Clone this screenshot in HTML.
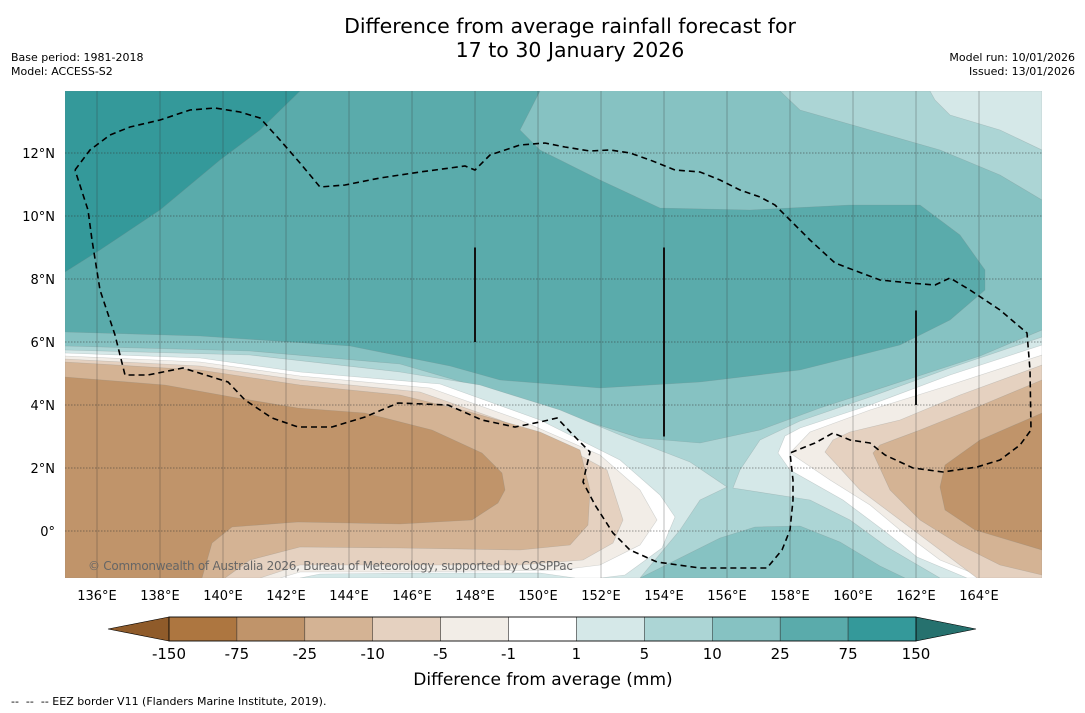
<!DOCTYPE html>
<html><head><meta charset="utf-8">
<style>
html,body{margin:0;padding:0;background:#fff;}
body{width:1085px;height:713px;overflow:hidden;position:relative;font-family:"DejaVu Sans","Liberation Sans",sans-serif;}
.t{position:absolute;white-space:nowrap;color:#000;}
</style></head>
<body>
<div class="t" style="left:0;width:1140px;top:14px;text-align:center;font-size:20.5px;line-height:24px;">Difference from average rainfall forecast for<br>17 to 30 January 2026</div>
<div class="t" style="left:11px;top:51px;font-size:11px;line-height:14px;">Base period: 1981-2018<br>Model: ACCESS-S2</div>
<div class="t" style="right:10px;top:51px;font-size:11px;line-height:14px;text-align:right;">Model run: 10/01/2026<br>Issued: 13/01/2026</div>
<div class="t" style="left:11px;top:695px;font-size:11px;">-- &nbsp;-- &nbsp;-- EEZ border V11 (Flanders Marine Institute, 2019).</div>
<svg id="map" width="1085" height="713" style="position:absolute;left:0;top:0" xmlns="http://www.w3.org/2000/svg"></svg>
<script>
const lonTicks=[136,138,140,142,144,146,148,150,152,154,156,158,160,162,164];
const latTicks=[0,2,4,6,8,10,12];
const cbLevels=["-150","-75","-25","-10","-5","-1","1","5","10","25","75","150"];
const cbColors=["#ad7640","#c0946a","#d4b394","#e5d1c0","#f2ede7","#ffffff","#d5e8e8","#acd5d5","#86c2c2","#5aabab","#34999a"];
const cbLow="#8f5b2a", cbHigh="#26716e";
const contours=[
 [9,[[65,91],[540,91],[520,130],[540,150],[600,180],[660,208],[750,210],[850,205],[920,205],[960,235],[985,270],[985,290],[950,320],[900,345],[800,370],[700,382],[600,388],[500,380],[450,366],[350,346],[200,336],[65,332]]],
 [10,[[65,91],[300,91],[260,130],[220,160],[160,210],[100,250],[65,272]]],
 [7,[[780,91],[1042,91],[1042,200],[1000,175],[940,150],[870,130],[800,110]]],
 [6,[[930,91],[1042,91],[1042,150],[1000,130],[950,115],[935,100]]],
 [7,[[65,346],[250,351],[400,364],[500,393],[560,413],[640,438],[700,443],[760,430],[820,408],[900,382],[980,356],[1042,330],[1042,578],[65,578]]],
 [8,[[640,578],[680,558],[720,538],[755,527],[800,526],[840,542],[880,566],[905,578]]],
 [6,[[65,350],[250,355],[400,372],[480,385],[560,410],[620,435],[690,462],[727,487],[700,500],[680,530],[640,578],[65,578]]],
 [6,[[1042,337],[950,368],[870,397],[800,421],[760,440],[740,470],[733,488],[810,500],[850,520],[887,547],[940,578],[1042,578]]],
 [5,[[65,353],[200,358],[300,372],[440,384],[540,420],[620,460],[660,495],[675,517],[662,548],[625,575],[600,578],[65,578]]],
 [4,[[65,356],[200,362],[300,376],[430,388],[520,420],[600,455],[640,490],[657,520],[640,545],[600,565],[560,570],[400,572],[300,572],[280,578],[65,578]]],
 [3,[[65,359],[200,366],[300,380],[420,392],[500,420],[570,450],[607,470],[623,520],[613,543],[583,560],[520,565],[400,565],[300,565],[260,578],[65,578]]],
 [2,[[65,362],[200,370],[300,385],[400,395],[470,412],[540,432],[580,450],[590,490],[588,525],[570,545],[520,550],[400,548],[300,547],[250,560],[225,578],[65,578]]],
 [1,[[65,377],[165,385],[232,397],[298,408],[365,413],[432,430],[482,453],[502,473],[505,490],[498,503],[472,520],[400,524],[298,522],[232,527],[212,543],[202,578],[65,578]]],
 [6,[[300,578],[320,574],[420,573],[540,573],[575,578]]],
 [5,[[1042,345],[950,375],[870,405],[800,428],[785,436],[778,453],[790,470],[843,500],[887,533],[917,557],[967,578],[1042,578]]],
 [4,[[1042,355],[950,385],[870,410],[810,432],[790,453],[830,480],[870,505],[900,530],[940,560],[985,578],[1042,578]]],
 [3,[[1042,365],[960,395],[900,420],[850,432],[833,440],[825,452],[860,490],[900,520],[940,550],[977,578],[1042,578]]],
 [2,[[1042,380],[970,410],[920,430],[880,445],[873,453],[890,490],[920,520],[960,545],[1000,565],[1042,575]]],
 [1,[[1042,413],[980,440],[945,465],[940,487],[945,510],[975,530],[1042,550]]]
];
const eez=[[75,170],[90,150],[110,135],[130,127],[160,120],[190,110],[215,108],[240,112],[260,118],[280,140],[300,163],[320,187],[345,185],[380,178],[420,172],[465,166],[475,170],[490,155],[520,145],[545,143],[565,147],[590,151],[610,150],[630,153],[650,160],[675,170],[700,172],[720,180],[740,190],[760,197],[775,205],[790,220],[810,240],[835,263],[880,280],[910,283],[935,285],[950,278],[970,290],[1000,310],[1027,333],[1030,370],[1031,430],[1020,445],[1000,460],[977,467],[943,472],[913,468],[885,455],[870,443],[850,440],[833,433],[815,443],[790,453],[793,480],[793,500],[790,530],[782,550],[767,568],[700,568],[657,562],[630,550],[613,533],[595,505],[583,482],[590,452],[578,440],[557,418],[540,422],[515,427],[482,420],[448,405],[398,403],[365,417],[332,427],[298,427],[272,418],[245,400],[228,382],[183,368],[148,375],[125,375],[115,335],[100,290],[92,240],[88,210],[75,170]];
const ridges=[[148,9,6],[154,9,3],[162,7,4]];

const NS="http://www.w3.org/2000/svg";
const svg=document.getElementById('map');
const X0=65,X1=1042,Y0=91,Y1=578;
function xOf(lon){return 97+(lon-136)*31.5;}
function yOf(lat){return 531-lat*31.5;}
function mk(tag,attrs,parent){const e=document.createElementNS(NS,tag);for(const k in attrs)e.setAttribute(k,attrs[k]);(parent||svg).appendChild(e);return e;}
const defs=mk('defs',{});
const cp=mk('clipPath',{id:'cp'},defs);mk('rect',{x:X0,y:Y0,width:X1-X0,height:Y1-Y0},cp);
const g=mk('g',{'clip-path':'url(#cp)'});
const bg=mk('rect',{x:X0,y:Y0,width:X1-X0,height:Y1-Y0,fill:cbColors[8]},g);


contours.forEach((c,i)=>{
  const p=mk('polygon',{points:c[1].map(q=>q.join(',')).join(' '),fill:cbColors[c[0]],stroke:'rgba(120,130,130,0.3)','stroke-width':0.6},g);
  
  
});
lonTicks.forEach(l=>{
  const ln=mk('line',{x1:xOf(l),x2:xOf(l),y1:Y0,y2:Y1,stroke:'#333','stroke-width':0.8,'stroke-opacity':0.4},g);
  
  
  const t=mk('text',{x:xOf(l),y:600,'font-size':13,'text-anchor':'middle','font-family':'DejaVu Sans, sans-serif'});
  t.textContent=l+'°E';
  
  
});
latTicks.forEach(l=>{
  const ln=mk('line',{x1:X0,x2:X1,y1:yOf(l),y2:yOf(l),stroke:'#333','stroke-width':0.8,'stroke-dasharray':'1.5,1.5','stroke-opacity':0.65},g);
  
  
  const t=mk('text',{x:55,y:yOf(l)+5,'font-size':13,'text-anchor':'end','font-family':'DejaVu Sans, sans-serif'});
  t.textContent=l===0?'0°':l+'°N';
  
  
});
ridges.forEach(r=>{
  const ln=mk('line',{x1:xOf(r[0]),x2:xOf(r[0]),y1:yOf(r[1]),y2:yOf(r[2]),stroke:'#111','stroke-width':2},g);
  
  
});
const ez=mk('polyline',{points:eez.map(q=>q.join(',')).join(' '),fill:'none',stroke:'#000','stroke-width':1.6,'stroke-dasharray':'6,4'},g);


const cr=mk('text',{x:88,y:570,'font-size':12,fill:'#666','font-family':'DejaVu Sans, sans-serif',textLength:485});
cr.textContent='© Commonwealth of Australia 2026, Bureau of Meteorology, supported by COSPPac';


const cbX0=169,cbX1=916,cbY=617,cbH=24,bw=(cbX1-cbX0)/cbColors.length;
const lt=mk('polygon',{points:`108,${cbY+cbH/2} ${cbX0},${cbY} ${cbX0},${cbY+cbH}`,fill:cbLow,stroke:'#000','stroke-width':0.6});


const rt=mk('polygon',{points:`976,${cbY+cbH/2} ${cbX1},${cbY} ${cbX1},${cbY+cbH}`,fill:cbHigh,stroke:'#000','stroke-width':0.6});


cbColors.forEach((c,i)=>{
  const r=mk('rect',{x:cbX0+i*bw,y:cbY,width:bw,height:cbH,fill:c,stroke:'#333','stroke-width':0.5});
  
  
});
mk('rect',{x:cbX0,y:cbY,width:cbX1-cbX0,height:cbH,fill:'none',stroke:'#000','stroke-width':0.8});
cbLevels.forEach((s,i)=>{
  const t=mk('text',{x:cbX0+i*bw,y:659,'font-size':15,'text-anchor':'middle','font-family':'DejaVu Sans, sans-serif'});
  t.textContent=s;
  
  
});
const ct=mk('text',{x:543,y:685,'font-size':17,'text-anchor':'middle','font-family':'DejaVu Sans, sans-serif'});
ct.textContent='Difference from average (mm)';


</script>
</body></html>
